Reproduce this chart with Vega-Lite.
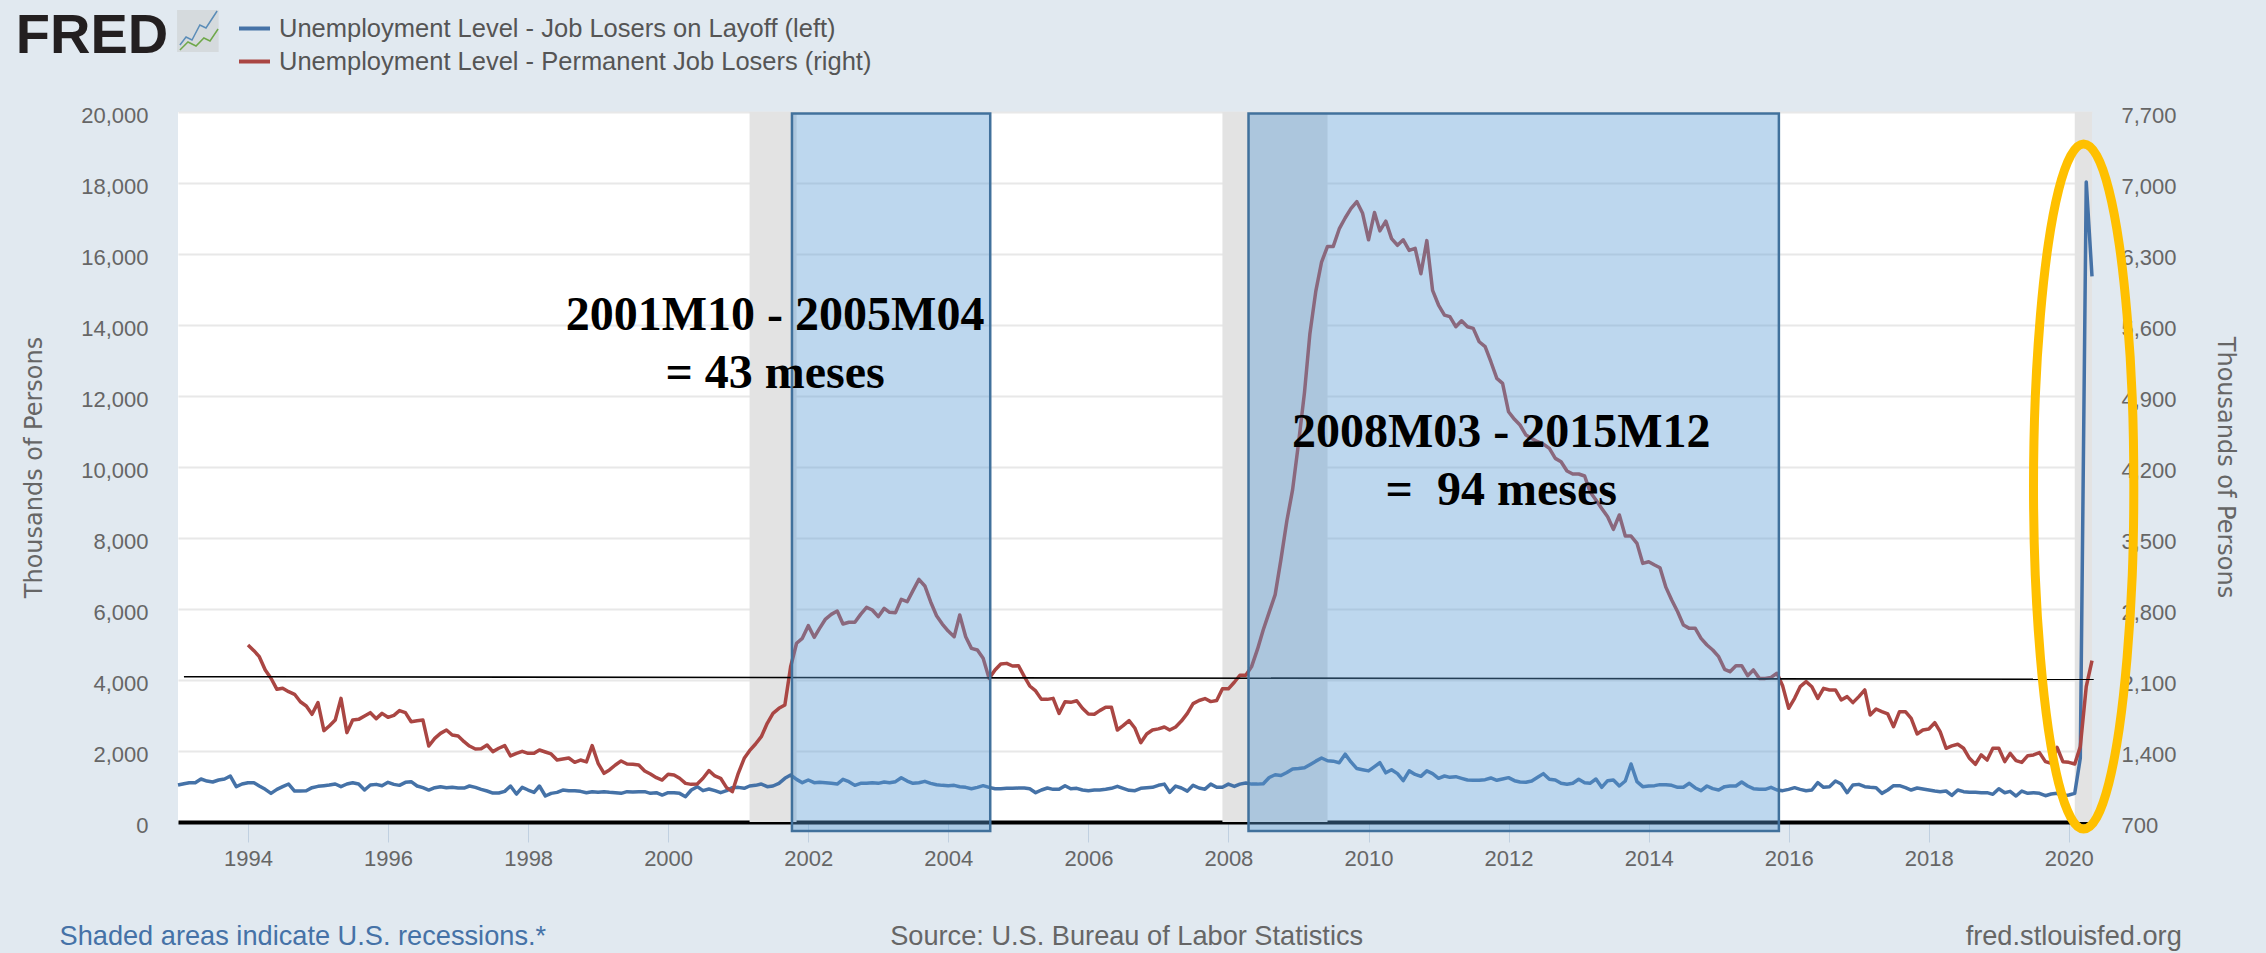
{"$schema":"https://vega.github.io/schema/vega-lite/v6.json","width":1914,"height":710,"autosize":{"type":"none"},"padding":{"left":178,"top":112,"right":174,"bottom":131},"background":"#E1E9F0","view":{"fill":"#FFFFFF","stroke":null},"config":{"axis":{"labelFont":"Liberation Sans","labelFontSize":22,"labelColor":"#666666","titleFont":"DejaVu Sans","titleFontSize":24,"titleFontWeight":"normal","titleColor":"#666666"}},"datasets":{"monthly":[
{"d":"1993-01-01","l":1042},{"d":"1993-02-01","l":1079},{"d":"1993-03-01","l":1107},{"d":"1993-04-01","l":1107},{"d":"1993-05-01","l":1211},{"d":"1993-06-01","l":1154},{"d":"1993-07-01","l":1126},{"d":"1993-08-01","l":1183},{"d":"1993-09-01","l":1211},{"d":"1993-10-01","l":1295},{"d":"1993-11-01","l":995},{"d":"1993-12-01","l":1070},
{"d":"1994-01-01","l":1107,"p":2445},{"d":"1994-02-01","l":1107,"p":2389},{"d":"1994-03-01","l":1014,"p":2330},{"d":"1994-04-01","l":920,"p":2199},{"d":"1994-05-01","l":807,"p":2117},{"d":"1994-06-01","l":920,"p":2008},{"d":"1994-07-01","l":995,"p":2018},{"d":"1994-08-01","l":1070,"p":1985},{"d":"1994-09-01","l":873,"p":1959},{"d":"1994-10-01","l":873,"p":1886},{"d":"1994-11-01","l":882,"p":1844},{"d":"1994-12-01","l":967,"p":1762},
{"d":"1995-01-01","l":1004,"p":1877},{"d":"1995-02-01","l":1023,"p":1601},{"d":"1995-03-01","l":1042,"p":1647},{"d":"1995-04-01","l":1070,"p":1706},{"d":"1995-05-01","l":995,"p":1919},{"d":"1995-06-01","l":1070,"p":1581},{"d":"1995-07-01","l":1107,"p":1706},{"d":"1995-08-01","l":1070,"p":1712},{"d":"1995-09-01","l":901,"p":1745},{"d":"1995-10-01","l":1042,"p":1778},{"d":"1995-11-01","l":1060,"p":1719},{"d":"1995-12-01","l":1023,"p":1771},
{"d":"1996-01-01","l":1117,"p":1732},{"d":"1996-02-01","l":1060,"p":1752},{"d":"1996-03-01","l":1032,"p":1798},{"d":"1996-04-01","l":1117,"p":1778},{"d":"1996-05-01","l":1136,"p":1689},{"d":"1996-06-01","l":1014,"p":1699},{"d":"1996-07-01","l":967,"p":1706},{"d":"1996-08-01","l":901,"p":1449},{"d":"1996-09-01","l":967,"p":1525},{"d":"1996-10-01","l":995,"p":1574},{"d":"1996-11-01","l":967,"p":1607},{"d":"1996-12-01","l":976,"p":1558},
{"d":"1997-01-01","l":957,"p":1548},{"d":"1997-02-01","l":957,"p":1492},{"d":"1997-03-01","l":1014,"p":1449},{"d":"1997-04-01","l":976,"p":1420},{"d":"1997-05-01","l":920,"p":1423},{"d":"1997-06-01","l":873,"p":1459},{"d":"1997-07-01","l":816,"p":1394},{"d":"1997-08-01","l":816,"p":1427},{"d":"1997-09-01","l":863,"p":1453},{"d":"1997-10-01","l":1014,"p":1351},{"d":"1997-11-01","l":788,"p":1377},{"d":"1997-12-01","l":976,"p":1397},
{"d":"1998-01-01","l":901,"p":1377},{"d":"1998-02-01","l":835,"p":1377},{"d":"1998-03-01","l":1014,"p":1410},{"d":"1998-04-01","l":732,"p":1390},{"d":"1998-05-01","l":807,"p":1371},{"d":"1998-06-01","l":835,"p":1311},{"d":"1998-07-01","l":901,"p":1321},{"d":"1998-08-01","l":882,"p":1331},{"d":"1998-09-01","l":882,"p":1288},{"d":"1998-10-01","l":863,"p":1311},{"d":"1998-11-01","l":826,"p":1292},{"d":"1998-12-01","l":854,"p":1453},
{"d":"1999-01-01","l":835,"p":1279},{"d":"1999-02-01","l":854,"p":1180},{"d":"1999-03-01","l":835,"p":1213},{"d":"1999-04-01","l":826,"p":1262},{"d":"1999-05-01","l":807,"p":1302},{"d":"1999-06-01","l":854,"p":1272},{"d":"1999-07-01","l":845,"p":1269},{"d":"1999-08-01","l":854,"p":1262},{"d":"1999-09-01","l":854,"p":1203},{"d":"1999-10-01","l":807,"p":1173},{"d":"1999-11-01","l":826,"p":1137},{"d":"1999-12-01","l":760,"p":1114},
{"d":"2000-01-01","l":826,"p":1170},{"d":"2000-02-01","l":826,"p":1164},{"d":"2000-03-01","l":807,"p":1131},{"d":"2000-04-01","l":713,"p":1081},{"d":"2000-05-01","l":901,"p":1071},{"d":"2000-06-01","l":995,"p":1075},{"d":"2000-07-01","l":882,"p":1131},{"d":"2000-08-01","l":929,"p":1206},{"d":"2000-09-01","l":882,"p":1154},{"d":"2000-10-01","l":826,"p":1131},{"d":"2000-11-01","l":882,"p":1039},{"d":"2000-12-01","l":967,"p":999},
{"d":"2001-01-01","l":976,"p":1180},{"d":"2001-02-01","l":948,"p":1328},{"d":"2001-03-01","l":1014,"p":1403},{"d":"2001-04-01","l":1032,"p":1469},{"d":"2001-05-01","l":1070,"p":1541},{"d":"2001-06-01","l":995,"p":1673},{"d":"2001-07-01","l":1014,"p":1771},{"d":"2001-08-01","l":1089,"p":1821},{"d":"2001-09-01","l":1230,"p":1854},{"d":"2001-10-01","l":1323,"p":2231},{"d":"2001-11-01","l":1201,"p":2462},{"d":"2001-12-01","l":1107,"p":2511},
{"d":"2002-01-01","l":1183,"p":2636},{"d":"2002-02-01","l":1107,"p":2521},{"d":"2002-03-01","l":1117,"p":2609},{"d":"2002-04-01","l":1107,"p":2701},{"d":"2002-05-01","l":1089,"p":2747},{"d":"2002-06-01","l":1070,"p":2780},{"d":"2002-07-01","l":1201,"p":2652},{"d":"2002-08-01","l":1136,"p":2669},{"d":"2002-09-01","l":1032,"p":2669},{"d":"2002-10-01","l":1089,"p":2747},{"d":"2002-11-01","l":1089,"p":2816},{"d":"2002-12-01","l":1107,"p":2790},
{"d":"2003-01-01","l":1089,"p":2724},{"d":"2003-02-01","l":1126,"p":2806},{"d":"2003-03-01","l":1107,"p":2767},{"d":"2003-04-01","l":1136,"p":2764},{"d":"2003-05-01","l":1248,"p":2895},{"d":"2003-06-01","l":1154,"p":2872},{"d":"2003-07-01","l":1089,"p":2981},{"d":"2003-08-01","l":1107,"p":3092},{"d":"2003-09-01","l":1145,"p":3027},{"d":"2003-10-01","l":1089,"p":2872},{"d":"2003-11-01","l":1051,"p":2734},{"d":"2003-12-01","l":1032,"p":2652},
{"d":"2004-01-01","l":1023,"p":2583},{"d":"2004-02-01","l":1032,"p":2527},{"d":"2004-03-01","l":995,"p":2741},{"d":"2004-04-01","l":976,"p":2527},{"d":"2004-05-01","l":938,"p":2412},{"d":"2004-06-01","l":976,"p":2396},{"d":"2004-07-01","l":1023,"p":2314},{"d":"2004-08-01","l":976,"p":2116},{"d":"2004-09-01","l":938,"p":2199},{"d":"2004-10-01","l":938,"p":2258},{"d":"2004-11-01","l":948,"p":2264},{"d":"2004-12-01","l":948,"p":2238},
{"d":"2005-01-01","l":957,"p":2241},{"d":"2005-02-01","l":957,"p":2133},{"d":"2005-03-01","l":938,"p":2041},{"d":"2005-04-01","l":826,"p":1992},{"d":"2005-05-01","l":901,"p":1909},{"d":"2005-06-01","l":957,"p":1909},{"d":"2005-07-01","l":920,"p":1919},{"d":"2005-08-01","l":920,"p":1771},{"d":"2005-09-01","l":1023,"p":1886},{"d":"2005-10-01","l":938,"p":1880},{"d":"2005-11-01","l":948,"p":1896},{"d":"2005-12-01","l":901,"p":1821},
{"d":"2006-01-01","l":882,"p":1765},{"d":"2006-02-01","l":901,"p":1762},{"d":"2006-03-01","l":901,"p":1798},{"d":"2006-04-01","l":920,"p":1831},{"d":"2006-05-01","l":948,"p":1831},{"d":"2006-06-01","l":1005,"p":1607},{"d":"2006-07-01","l":948,"p":1650},{"d":"2006-08-01","l":891,"p":1699},{"d":"2006-09-01","l":882,"p":1624},{"d":"2006-10-01","l":948,"p":1482},{"d":"2006-11-01","l":967,"p":1568},{"d":"2006-12-01","l":976,"p":1607},
{"d":"2007-01-01","l":1034,"p":1618},{"d":"2007-02-01","l":1067,"p":1637},{"d":"2007-03-01","l":837,"p":1607},{"d":"2007-04-01","l":1012,"p":1637},{"d":"2007-05-01","l":958,"p":1695},{"d":"2007-06-01","l":870,"p":1771},{"d":"2007-07-01","l":1034,"p":1867},{"d":"2007-08-01","l":958,"p":1898},{"d":"2007-09-01","l":925,"p":1917},{"d":"2007-10-01","l":1067,"p":1887},{"d":"2007-11-01","l":979,"p":1898},{"d":"2007-12-01","l":979,"p":2013},
{"d":"2008-01-01","l":1067,"p":2013},{"d":"2008-02-01","l":1001,"p":2078},{"d":"2008-03-01","l":1067,"p":2147},{"d":"2008-04-01","l":1100,"p":2147},{"d":"2008-05-01","l":1067,"p":2232},{"d":"2008-06-01","l":1067,"p":2404},{"d":"2008-07-01","l":1078,"p":2596},{"d":"2008-08-01","l":1253,"p":2769},{"d":"2008-09-01","l":1330,"p":2942},{"d":"2008-10-01","l":1308,"p":3287},{"d":"2008-11-01","l":1396,"p":3670},{"d":"2008-12-01","l":1494,"p":3977},
{"d":"2009-01-01","l":1505,"p":4438},{"d":"2009-02-01","l":1527,"p":4936},{"d":"2009-03-01","l":1615,"p":5512},{"d":"2009-04-01","l":1714,"p":5934},{"d":"2009-05-01","l":1802,"p":6221},{"d":"2009-06-01","l":1725,"p":6375},{"d":"2009-07-01","l":1714,"p":6375},{"d":"2009-08-01","l":1670,"p":6547},{"d":"2009-09-01","l":1911,"p":6655},{"d":"2009-10-01","l":1692,"p":6747},{"d":"2009-11-01","l":1505,"p":6816},{"d":"2009-12-01","l":1473,"p":6701},
{"d":"2010-01-01","l":1440,"p":6440},{"d":"2010-02-01","l":1561,"p":6709},{"d":"2010-03-01","l":1670,"p":6528},{"d":"2010-04-01","l":1385,"p":6624},{"d":"2010-05-01","l":1473,"p":6452},{"d":"2010-06-01","l":1363,"p":6386},{"d":"2010-07-01","l":1166,"p":6440},{"d":"2010-08-01","l":1440,"p":6336},{"d":"2010-09-01","l":1341,"p":6356},{"d":"2010-10-01","l":1286,"p":6106},{"d":"2010-11-01","l":1440,"p":6432},{"d":"2010-12-01","l":1363,"p":5941},
{"d":"2011-01-01","l":1232,"p":5797},{"d":"2011-02-01","l":1296,"p":5698},{"d":"2011-03-01","l":1258,"p":5682},{"d":"2011-04-01","l":1277,"p":5583},{"d":"2011-05-01","l":1230,"p":5642},{"d":"2011-06-01","l":1183,"p":5583},{"d":"2011-07-01","l":1174,"p":5567},{"d":"2011-08-01","l":1174,"p":5435},{"d":"2011-09-01","l":1193,"p":5386},{"d":"2011-10-01","l":1240,"p":5238},{"d":"2011-11-01","l":1174,"p":5074},{"d":"2011-12-01","l":1211,"p":5024},
{"d":"2012-01-01","l":1249,"p":4745},{"d":"2012-02-01","l":1164,"p":4670},{"d":"2012-03-01","l":1127,"p":4614},{"d":"2012-04-01","l":1118,"p":4515},{"d":"2012-05-01","l":1155,"p":4482},{"d":"2012-06-01","l":1258,"p":4449},{"d":"2012-07-01","l":1362,"p":4426},{"d":"2012-08-01","l":1202,"p":4384},{"d":"2012-09-01","l":1183,"p":4285},{"d":"2012-10-01","l":1090,"p":4252},{"d":"2012-11-01","l":1061,"p":4160},{"d":"2012-12-01","l":1090,"p":4131},
{"d":"2013-01-01","l":1202,"p":4131},{"d":"2013-02-01","l":1108,"p":4111},{"d":"2013-03-01","l":1090,"p":3957},{"d":"2013-04-01","l":1211,"p":3874},{"d":"2013-05-01","l":977,"p":3792},{"d":"2013-06-01","l":1164,"p":3710},{"d":"2013-07-01","l":1183,"p":3585},{"d":"2013-08-01","l":1014,"p":3727},{"d":"2013-09-01","l":1155,"p":3519},{"d":"2013-10-01","l":1634,"p":3519},{"d":"2013-11-01","l":1136,"p":3447},{"d":"2013-12-01","l":996,"p":3250},
{"d":"2014-01-01","l":1014,"p":3266},{"d":"2014-02-01","l":1024,"p":3234},{"d":"2014-03-01","l":1052,"p":3207},{"d":"2014-04-01","l":1052,"p":3013},{"d":"2014-05-01","l":1033,"p":2889},{"d":"2014-06-01","l":977,"p":2773},{"d":"2014-07-01","l":977,"p":2642},{"d":"2014-08-01","l":1090,"p":2609},{"d":"2014-09-01","l":958,"p":2609},{"d":"2014-10-01","l":883,"p":2511},{"d":"2014-11-01","l":1014,"p":2445},{"d":"2014-12-01","l":939,"p":2396},
{"d":"2015-01-01","l":901,"p":2330},{"d":"2015-02-01","l":996,"p":2205},{"d":"2015-03-01","l":1014,"p":2182},{"d":"2015-04-01","l":1014,"p":2241},{"d":"2015-05-01","l":1127,"p":2241},{"d":"2015-06-01","l":1014,"p":2143},{"d":"2015-07-01","l":939,"p":2199},{"d":"2015-08-01","l":920,"p":2116},{"d":"2015-09-01","l":920,"p":2116},{"d":"2015-10-01","l":977,"p":2126},{"d":"2015-11-01","l":901,"p":2166},{"d":"2015-12-01","l":883,"p":2040},
{"d":"2016-01-01","l":920,"p":1821},{"d":"2016-02-01","l":967,"p":1919},{"d":"2016-03-01","l":920,"p":2034},{"d":"2016-04-01","l":882,"p":2084},{"d":"2016-05-01","l":901,"p":2034},{"d":"2016-06-01","l":1107,"p":1919},{"d":"2016-07-01","l":976,"p":2018},{"d":"2016-08-01","l":995,"p":2002},{"d":"2016-09-01","l":1154,"p":2002},{"d":"2016-10-01","l":1070,"p":1903},{"d":"2016-11-01","l":826,"p":1936},{"d":"2016-12-01","l":1042,"p":1877},
{"d":"2017-01-01","l":1060,"p":1936},{"d":"2017-02-01","l":995,"p":2002},{"d":"2017-03-01","l":976,"p":1755},{"d":"2017-04-01","l":967,"p":1814},{"d":"2017-05-01","l":807,"p":1788},{"d":"2017-06-01","l":901,"p":1765},{"d":"2017-07-01","l":1023,"p":1640},{"d":"2017-08-01","l":1023,"p":1788},{"d":"2017-09-01","l":967,"p":1788},{"d":"2017-10-01","l":901,"p":1722},{"d":"2017-11-01","l":957,"p":1568},{"d":"2017-12-01","l":929,"p":1607},
{"d":"2018-01-01","l":901,"p":1617},{"d":"2018-02-01","l":873,"p":1679},{"d":"2018-03-01","l":854,"p":1591},{"d":"2018-04-01","l":873,"p":1427},{"d":"2018-05-01","l":751,"p":1450},{"d":"2018-06-01","l":901,"p":1466},{"d":"2018-07-01","l":854,"p":1427},{"d":"2018-08-01","l":835,"p":1328},{"d":"2018-09-01","l":835,"p":1269},{"d":"2018-10-01","l":826,"p":1361},{"d":"2018-11-01","l":826,"p":1311},{"d":"2018-12-01","l":779,"p":1427},
{"d":"2019-01-01","l":938,"p":1427},{"d":"2019-02-01","l":826,"p":1295},{"d":"2019-03-01","l":863,"p":1377},{"d":"2019-04-01","l":732,"p":1305},{"d":"2019-05-01","l":873,"p":1288},{"d":"2019-06-01","l":807,"p":1354},{"d":"2019-07-01","l":826,"p":1361},{"d":"2019-08-01","l":807,"p":1384},{"d":"2019-09-01","l":741,"p":1295},{"d":"2019-10-01","l":788,"p":1279},{"d":"2019-11-01","l":807,"p":1436},{"d":"2019-12-01","l":732,"p":1295},
{"d":"2020-01-01","l":760,"p":1288},{"d":"2020-02-01","l":807,"p":1272},{"d":"2020-03-01","l":1800,"p":1443},{"d":"2020-04-01","l":18030,"p":2034},{"d":"2020-05-01","l":15370,"p":2290}
]},"layer":[
{"data":{"values":[{"a":"2001-03-01","b":"2001-11-01"},{"a":"2007-12-01","b":"2009-06-01"},{"a":"2020-02-01","b":"2020-05-01"}]},"mark":{"type":"rect","fill":"#E3E3E3"},"encoding":{"x":{"field":"a","type":"temporal","title":null,"scale":{"domain":[{"year":1993,"month":"jan","date":1},{"year":2020,"month":"may","date":1}]},"axis":{"values":[{"year":1994},{"year":1996},{"year":1998},{"year":2000},{"year":2002},{"year":2004},{"year":2006},{"year":2008},{"year":2010},{"year":2012},{"year":2014},{"year":2016},{"year":2018},{"year":2020}],"format":"%Y","grid":false,"domain":true,"domainColor":"#000000","domainWidth":4,"ticks":true,"tickColor":"#C0D0E0","tickWidth":1,"tickSize":20,"labelPadding":6,"labelAngle":0,"labelFlush":false,"labelOverlap":false}},"x2":{"field":"b"}}},
{"data":{"name":"monthly"},"mark":{"type":"line","strokeWidth":3.5,"strokeJoin":"round"},"encoding":{"x":{"field":"d","type":"temporal","title":null},"y":{"field":"l","type":"quantitative","title":"Thousands of Persons","scale":{"domain":[0,20000],"nice":false,"zero":false},"axis":{"orient":"left","values":[0,2000,4000,6000,8000,10000,12000,14000,16000,18000,20000],"format":",d","grid":true,"gridColor":"#E8E8E8","gridWidth":2,"domain":false,"ticks":false,"labelPadding":30,"labelOffset":3,"titleX":-132,"titleY":355}},"color":{"datum":"Unemployment Level - Job Losers on Layoff (left)","scale":{"domain":["Unemployment Level - Job Losers on Layoff (left)","Unemployment Level - Permanent Job Losers (right)"],"range":["#4572A7","#AA4643"]},"legend":{"orient":"none","legendX":59,"legendY":-101,"title":null,"symbolType":"stroke","symbolSize":961,"symbolStrokeWidth":4,"labelFont":"Liberation Sans","labelFontSize":25.5,"labelColor":"#555555","labelOffset":7,"rowPadding":2,"padding":0,"labelLimit":800}}}},
{"data":{"name":"monthly"},"mark":{"type":"line","strokeWidth":3.5,"strokeJoin":"round"},"encoding":{"x":{"field":"d","type":"temporal","title":null},"y":{"field":"p","type":"quantitative","title":"Thousands of Persons","scale":{"domain":[700,7700],"nice":false,"zero":false},"axis":{"orient":"right","values":[700,1400,2100,2800,3500,4200,4900,5600,6300,7000,7700],"format":",d","grid":false,"domain":false,"ticks":false,"labelPadding":29,"labelOffset":3,"titleX":120,"titleY":355}},"color":{"datum":"Unemployment Level - Permanent Job Losers (right)"}}},
{"data":{"values":[{"d":"1993-02-01","v":4093},{"d":"2020-05-10","v":4020}]},"mark":{"type":"line","color":"#000000","strokeWidth":1.6},"encoding":{"x":{"field":"d","type":"temporal","title":null},"y":{"field":"v","type":"quantitative","scale":{"domain":[0,20000],"nice":false,"zero":false},"axis":null}}},
{"data":{"values":[{"a":"2001-10-08","b":"2004-08-07","y0":-253,"y1":19960},{"a":"2008-04-15","b":"2015-11-11","y0":-253,"y1":19960}]},"mark":{"type":"rect","fill":"#5B9BD5","fillOpacity":0.4,"stroke":"#41719C","strokeWidth":2.5},"encoding":{"x":{"field":"a","type":"temporal","title":null},"x2":{"field":"b"},"y":{"field":"y0","type":"quantitative","scale":{"domain":[0,20000],"nice":false,"zero":false},"axis":null},"y2":{"field":"y1"}}},
{"data":{"values":[{"i":0,"d":"2020-03-18","v":19099},{"i":1,"d":"2020-05-26","v":18770},{"i":2,"d":"2020-07-28","v":17806},{"i":3,"d":"2020-09-20","v":16273},{"i":4,"d":"2020-10-31","v":14275},{"i":5,"d":"2020-11-27","v":11948},{"i":6,"d":"2020-12-05","v":9451},{"i":7,"d":"2020-11-27","v":6954},{"i":8,"d":"2020-10-31","v":4627},{"i":9,"d":"2020-09-20","v":2629},{"i":10,"d":"2020-07-28","v":1096},{"i":11,"d":"2020-05-26","v":132},{"i":12,"d":"2020-03-18","v":-197},{"i":13,"d":"2020-01-11","v":132},{"i":14,"d":"2019-11-09","v":1096},{"i":15,"d":"2019-09-16","v":2629},{"i":16,"d":"2019-08-06","v":4627},{"i":17,"d":"2019-07-10","v":6954},{"i":18,"d":"2019-07-01","v":9451},{"i":19,"d":"2019-07-10","v":11948},{"i":20,"d":"2019-08-06","v":14275},{"i":21,"d":"2019-09-16","v":16273},{"i":22,"d":"2019-11-09","v":17806},{"i":23,"d":"2020-01-11","v":18770}]},"mark":{"type":"line","interpolate":"cardinal-closed","color":"#FFC000","strokeWidth":9},"encoding":{"x":{"field":"d","type":"temporal","title":null},"y":{"field":"v","type":"quantitative","scale":{"domain":[0,20000],"nice":false,"zero":false},"axis":null},"order":{"field":"i"}}},
{"data":{"values":[{"d":"2001-07-12","v":13859,"t":"2001M10 - 2005M04"},{"d":"2001-07-12","v":12225,"t":"= 43 meses"},{"d":"2011-11-24","v":10563,"t":"2008M03 - 2015M12"},{"d":"2011-11-24","v":8930,"t":"=\u00A0 94 meses"}]},"mark":{"type":"text","align":"center","baseline":"alphabetic","font":"Liberation Serif","fontWeight":"bold","fontSize":48,"color":"#000000"},"encoding":{"x":{"field":"d","type":"temporal","title":null},"y":{"field":"v","type":"quantitative","scale":{"domain":[0,20000],"nice":false,"zero":false},"axis":null},"text":{"field":"t"}}},
{"data":{"values":[{"a":"1992-12-27","b":"1993-08-01","y0":21690,"y1":22873}]},"mark":{"type":"rect","fill":"#D5DADD"},"encoding":{"x":{"field":"a","type":"temporal","title":null},"x2":{"field":"b"},"y":{"field":"y0","type":"quantitative","scale":{"domain":[0,20000],"nice":false,"zero":false},"axis":null},"y2":{"field":"y1"}}},
{"data":{"values":[{"s":"b","d":"1993-01-11","v":21887},{"s":"b","d":"1993-02-12","v":22113},{"s":"b","d":"1993-03-15","v":22028},{"s":"b","d":"1993-04-25","v":22451},{"s":"b","d":"1993-05-27","v":22366},{"s":"b","d":"1993-07-24","v":22845},{"s":"g","d":"1993-01-11","v":21746},{"s":"g","d":"1993-02-22","v":21972},{"s":"g","d":"1993-04-05","v":21859},{"s":"g","d":"1993-05-16","v":22085},{"s":"g","d":"1993-06-17","v":22000},{"s":"g","d":"1993-07-29","v":22338}]},"mark":{"type":"line","strokeWidth":1.5},"encoding":{"x":{"field":"d","type":"temporal","title":null},"y":{"field":"v","type":"quantitative","scale":{"domain":[0,20000],"nice":false,"zero":false},"axis":null},"detail":{"field":"s"},"stroke":{"field":"s","type":"nominal","legend":null,"scale":{"domain":["b","g"],"range":["#5B8DB8","#6FA84A"]}}}},
{"data":{"values":[{"d":"1990-09-08","v":21662,"t":"FRED"}]},"mark":{"type":"text","align":"left","baseline":"alphabetic","font":"Liberation Sans","fontWeight":"bold","fontSize":56,"color":"#231F20"},"encoding":{"x":{"field":"d","type":"temporal","title":null},"y":{"field":"v","type":"quantitative","scale":{"domain":[0,20000],"nice":false,"zero":false},"axis":null},"text":{"field":"t"}}},
{"data":{"values":[{"d":"1991-04-24","v":-3465,"t":"Shaded areas indicate U.S. recessions.*"}]},"mark":{"type":"text","align":"left","baseline":"alphabetic","font":"Liberation Sans","fontSize":27.2,"color":"#4572A7"},"encoding":{"x":{"field":"d","type":"temporal","title":null},"y":{"field":"v","type":"quantitative","scale":{"domain":[0,20000],"nice":false,"zero":false},"axis":null},"text":{"field":"t"}}},
{"data":{"values":[{"d":"2003-03-04","v":-3465,"t":"Source: U.S. Bureau of Labor Statistics"},{"d":"2018-07-12","v":-3465,"t":"fred.stlouisfed.org"}]},"mark":{"type":"text","align":"left","baseline":"alphabetic","font":"Liberation Sans","fontSize":27.2,"color":"#666666"},"encoding":{"x":{"field":"d","type":"temporal","title":null},"y":{"field":"v","type":"quantitative","scale":{"domain":[0,20000],"nice":false,"zero":false},"axis":null},"text":{"field":"t"}}}
],"resolve":{"scale":{"y":"independent"},"axis":{"y":"independent"}}}
